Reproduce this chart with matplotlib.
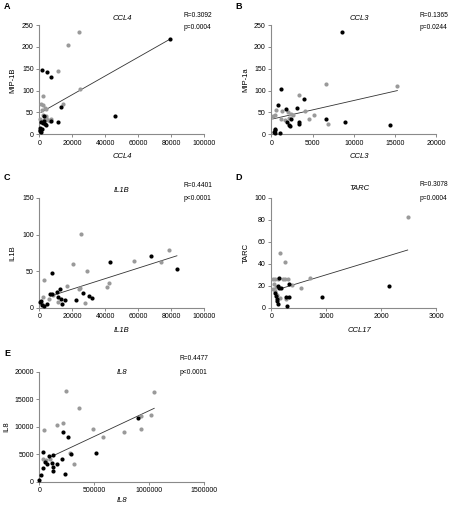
import matplotlib
matplotlib.use("Agg")
import matplotlib.pyplot as plt

plt.rcParams["font.family"] = ["Liberation Sans", "DejaVu Sans"]

W, H = 452, 508

# ---- panel A: CCL4 / MIP-1B
a_blk_x = [1600, 4700, 7300, 79400, 13200, 11200, 45800, 800, 500, 400, 600, 900, 1500, 2600, 3500, 4300, 2000, 3000, 6800]
a_blk_y = [148, 143, 130, 217, 63, 29, 43, 27, 14, 10, 7, 5, 12, 42, 24, 22, 25, 30, 31]
a_gry_x = [24100, 17200, 11500, 24700, 2000, 1200, 2200, 3200, 4200, 14100, 600, 3000, 5200, 6500, 7000, 2500, 4000, 1500, 800, 3800]
a_gry_y = [233, 204, 145, 104, 87, 69, 66, 61, 57, 69, 36, 33, 33, 31, 34, 45, 42, 55, 30, 38]
a_fit_x = [1000, 79400]
a_fit_y = [50, 218]

# ---- panel B: CCL3 / MIP-1a
b_blk_x = [8550, 1140, 850, 1780, 3070, 3990, 6570, 8950, 14400, 2380, 2260, 3350, 3350, 1860, 400, 300, 450, 1100, 500, 2100]
b_blk_y = [235, 104, 67, 58, 61, 81, 34, 29, 22, 34, 20, 27, 23, 28, 12, 6, 3, 4, 9, 22]
b_gry_x = [6650, 15200, 3310, 4040, 5200, 4600, 6860, 570, 1290, 1140, 2020, 2420, 240, 400, 2600, 2200, 1700]
b_gry_y = [116, 110, 91, 53, 45, 36, 23, 55, 53, 35, 51, 47, 42, 45, 44, 38, 32]
b_fit_x = [160, 15280]
b_fit_y = [35, 100]

# ---- panel C: IL1B
c_blk_x = [7530, 425, 1450, 2850, 4490, 6500, 7530, 10750, 11170, 12570, 13180, 13970, 15790, 22280, 26720, 29990, 32180, 42930, 67600, 83400, 800]
c_blk_y = [47.9, 7.4, 4.1, 2.7, 5.5, 18.3, 18.7, 21.9, 14.2, 25.6, 12.3, 5.5, 10.5, 10.1, 19.7, 15.6, 12.8, 62.5, 71.1, 52.5, 9]
c_gry_x = [25100, 20240, 29150, 57100, 78900, 73700, 41300, 42500, 2630, 16600, 24300, 24800, 27530, 11540, 2430, 6070, 8500, 1500]
c_gry_y = [100.3, 59.7, 50.2, 63.4, 78.9, 62.5, 28.7, 33.3, 37.4, 29.6, 25, 27, 5.9, 8.2, 15, 11.4, 16.9, 5]
c_fit_x = [6880, 83400]
c_fit_y = [16, 71]

# ---- panel D: CCL17 / TARC
d_blk_x = [134, 116, 145, 327, 267, 327, 290, 98, 127, 914, 2141, 60, 110, 175, 80]
d_blk_y = [26.8, 20, 18.2, 21.3, 9.5, 10, 1.8, 6.1, 3.1, 9.5, 19.8, 13, 8, 17.6, 11]
d_gry_x = [2480, 158, 248, 702, 533, 370, 25, 67, 116, 207, 248, 309, 36, 67, 49, 100, 150, 80, 260]
d_gry_y = [82.7, 49.6, 41.7, 27, 18.2, 20.4, 25.9, 25.9, 25.9, 25.9, 25.9, 25.9, 16.8, 15.2, 21.3, 12, 9, 19, 8]
d_fit_x = [145, 2480]
d_fit_y = [17, 52.6]

# ---- panel E: IL8
e_blk_x = [213100, 258600, 36400, 516400, 127500, 88300, 206700, 286000, 234000, 0, 15500, 36400, 52000, 72900, 112900, 122000, 122000, 163900, 896200]
e_blk_y = [9060, 8090, 5470, 5290, 4870, 4740, 4080, 5050, 1460, 310, 1220, 2550, 3650, 3280, 3350, 2620, 1950, 3230, 11560]
e_gry_x = [240400, 361600, 42800, 161200, 215800, 491800, 582900, 36400, 97500, 279600, 318800, 1044600, 923500, 1014600, 923500, 774200, 60000]
e_gry_y = [16590, 13380, 9370, 10280, 10700, 9610, 8200, 4080, 4080, 5290, 3230, 16410, 12030, 12100, 9610, 9060, 3900]
e_fit_x = [100000, 1044600]
e_fit_y = [4490, 13380]

panels = [
    dict(letter="A", title="CCL4", xlabel="CCL4", ylabel="MIP-1B", r="R=0.3092", p="p=0.0004",
         blk=(a_blk_x, a_blk_y), gry=(a_gry_x, a_gry_y), fit=(a_fit_x, a_fit_y),
         xt=[0, 20000, 40000, 60000, 80000, 100000], yt=[0, 50, 100, 150, 200, 250]),
    dict(letter="B", title="CCL3", xlabel="CCL3", ylabel="MIP-1a", r="R=0.1365", p="p=0.0244",
         blk=(b_blk_x, b_blk_y), gry=(b_gry_x, b_gry_y), fit=(b_fit_x, b_fit_y),
         xt=[0, 5000, 10000, 15000, 20000], yt=[0, 50, 100, 150, 200, 250]),
    dict(letter="C", title="IL1B", xlabel="IL1B", ylabel="IL1B", r="R=0.4401", p="p<0.0001",
         blk=(c_blk_x, c_blk_y), gry=(c_gry_x, c_gry_y), fit=(c_fit_x, c_fit_y),
         xt=[0, 20000, 40000, 60000, 80000, 100000], yt=[0, 50, 100, 150]),
    dict(letter="D", title="TARC", xlabel="CCL17", ylabel="TARC", r="R=0.3078", p="p=0.0004",
         blk=(d_blk_x, d_blk_y), gry=(d_gry_x, d_gry_y), fit=(d_fit_x, d_fit_y),
         xt=[0, 1000, 2000, 3000], yt=[0, 20, 40, 60, 80, 100]),
    dict(letter="E", title="IL8", xlabel="IL8", ylabel="IL8", r="R=0.4477", p="p<0.0001",
         blk=(e_blk_x, e_blk_y), gry=(e_gry_x, e_gry_y), fit=(e_fit_x, e_fit_y),
         xt=[0, 500000, 1000000, 1500000], yt=[0, 5000, 10000, 15000, 20000]),
]

# pixel layout of each panel: axes left, axes bottom/top (px from top), letter, title, R/p, labels
layout = [
    dict(ax=(39.3, 134.3, 25.0), let=(7, 6.5), tit=(122, 19), r=(184, 15.5), p=(184, 27.5), xl=(122, 156), yl=(12.5, 80)),
    dict(ax=(271.3, 134.3, 25.0), let=(239, 6.5), tit=(359, 19), r=(420, 15.5), p=(420, 27.5), xl=(359, 156), yl=(245.5, 80)),
    dict(ax=(39.3, 307.7, 198.0), let=(7, 177), tit=(122, 191), r=(184, 185.5), p=(184, 199), xl=(122, 331), yl=(12.5, 253)),
    dict(ax=(271.3, 307.7, 198.0), let=(239, 177), tit=(359, 189), r=(420, 185), p=(420, 198), xl=(359, 330), yl=(246.5, 253)),
    dict(ax=(39.3, 481.7, 372.0), let=(7, 353), tit=(122, 373), r=(180, 358), p=(180, 372.5), xl=(122, 501), yl=(6.5, 427)),
]

fig = plt.figure(figsize=(W / 100, H / 100), dpi=100)

def fx(x):
    return x / W

def fy(y):
    return 1 - y / H

for pan, lay in zip(panels, layout):
    left, bot, top = lay["ax"]
    ax = fig.add_axes([fx(left), fy(bot), 165.0 / W, (bot - top) / H])
    ax.scatter(*pan["gry"], s=9, color="#9a9a9a", linewidths=0, clip_on=False, zorder=3)
    ax.scatter(*pan["blk"], s=9, color="black", linewidths=0, clip_on=False, zorder=4)
    ax.plot(*pan["fit"], color="#333333", lw=0.6, zorder=2)
    ax.set_xlim(pan["xt"][0], pan["xt"][-1])
    ax.set_ylim(pan["yt"][0], pan["yt"][-1])
    ax.set_xticks(pan["xt"])
    ax.set_yticks(pan["yt"])
    ax.set_xticklabels([str(v) for v in pan["xt"]])
    ax.set_yticklabels([str(v) for v in pan["yt"]])
    ax.tick_params(labelsize=5, length=2, width=0.6, color="#777777", pad=2)
    for s in ["top", "right"]:
        ax.spines[s].set_visible(False)
    for s in ["left", "bottom"]:
        ax.spines[s].set_color("#8a8a8a")
        ax.spines[s].set_linewidth(0.8)
    fig.text(fx(lay["let"][0]), fy(lay["let"][1]), pan["letter"], fontsize=6.5, fontweight="bold", ha="center", va="center")
    fig.text(fx(lay["tit"][0]), fy(lay["tit"][1]), pan["title"], fontsize=5.5, style="italic", ha="center", va="center")
    fig.text(fx(lay["r"][0]), fy(lay["r"][1]), pan["r"], fontsize=4.8, ha="left", va="center")
    fig.text(fx(lay["p"][0]), fy(lay["p"][1]), pan["p"], fontsize=4.8, ha="left", va="center")
    fig.text(fx(lay["xl"][0]), fy(lay["xl"][1]), pan["xlabel"], fontsize=5.5, style="italic", ha="center", va="center")
    fig.text(fx(lay["yl"][0]), fy(lay["yl"][1]), pan["ylabel"], fontsize=5.5, rotation=90, ha="center", va="center")

fig.savefig("out.png", dpi=100)
